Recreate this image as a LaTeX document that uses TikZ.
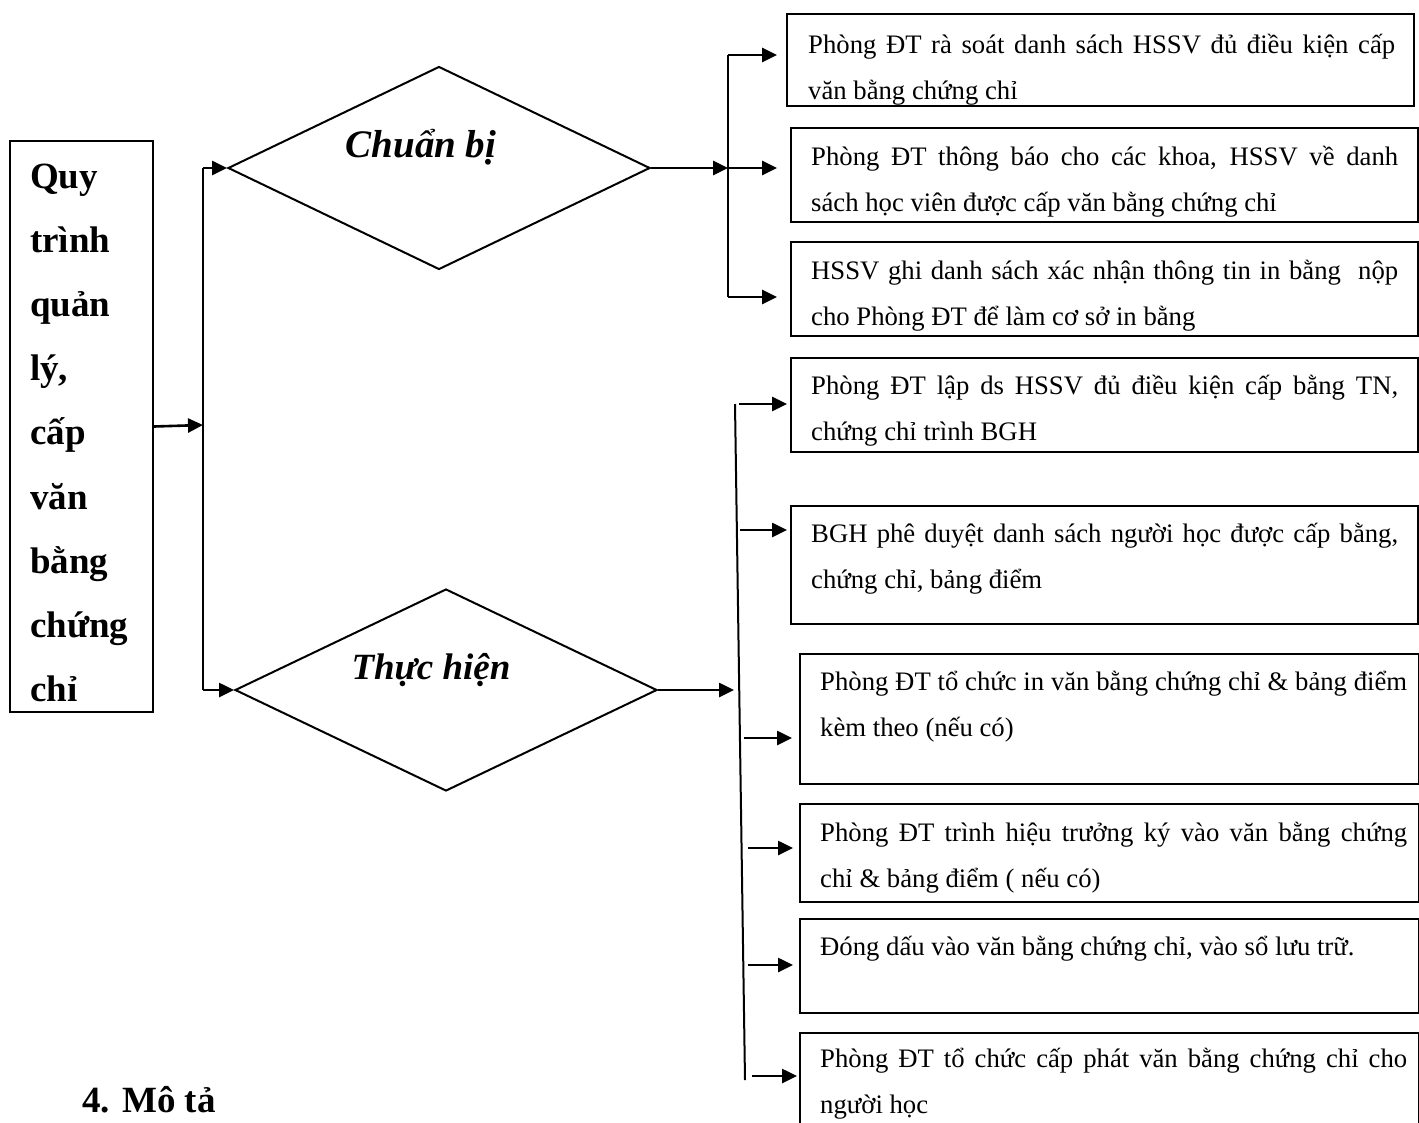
\documentclass[tikz,border=0pt]{standalone}
\usepackage{fontspec}
\setmainfont{Liberation Serif}
\usetikzlibrary{arrows.meta,shapes.geometric}
\tikzset{
  arr/.style={line width=2.6pt, -{Triangle[length=15pt,width=14pt]}},
  ln/.style={line width=2pt},
  boxn/.style={draw, line width=2.4pt, inner sep=0, anchor=north west},
  dia/.style={diamond, draw, line width=2pt, inner sep=0, minimum width=422pt},
  txt/.style={anchor=base west, inner sep=0},
  big/.style={font=\fontsize{37}{44}\selectfont\bfseries},
}
\newcommand{\bt}[1]{\parbox[t]{587pt}{\fontsize{26.7}{46}\selectfont\tolerance=10000 #1}}
\newcommand{\cliptxt}[3]{\begin{scope}\clip ([shift={(1.2pt,-1.2pt)}]#1.north west) rectangle ([shift={(-1.2pt,1.2pt)}]#1.south east);\node[txt] at (#2) {\bt{#3}};\end{scope}}
\begin{document}
\begin{tikzpicture}[x=1pt,y=-1pt]
\useasboundingbox (0,0) rectangle (1419,1122);
\clip (0,0) rectangle (1419,1122);
\fill[white] (0,0) rectangle (1419,1122);

% left box
\node[draw, line width=2pt, inner sep=0, anchor=north west, minimum width=143pt, minimum height=571pt] (L) at (9,140) {};
\node[txt] (Lt) at (30,188) {\parbox[t]{120pt}{\fontsize{37}{64.2}\selectfont\bfseries Quy\\trình\\quản\\lý,\\cấp\\văn\\bằng\\chứng\\chỉ}};

% diamonds
\node[dia, minimum height=203pt] (D1) at (439,168) {};
\node[dia, minimum height=202pt] (D2) at (446,690) {};
\node[anchor=base, inner sep=0, font=\fontsize{39}{46}\selectfont\bfseries\itshape] (D1t) at (421,157) {Chuẩn bị};
\node[anchor=base, inner sep=0, font=\fontsize{37}{44}\selectfont\bfseries\itshape] (D2t) at (431,679) {Thực hiện};

% right boxes
\node[boxn, minimum width=627pt, minimum height=92pt] (b1) at (786,13) {};
\node[boxn, minimum width=627pt, minimum height=94pt] (b2) at (790,127) {};
\node[boxn, minimum width=627pt, minimum height=94pt] (b3) at (790,241) {};
\node[boxn, minimum width=627pt, minimum height=94pt] (b4) at (790,357) {};
\node[boxn, minimum width=627pt, minimum height=118pt] (b5) at (790,505) {};
\node[boxn, minimum width=619pt, minimum height=130pt] (b6) at (799,653) {};
\node[boxn, minimum width=619pt, minimum height=98pt] (b7) at (799,803) {};
\node[boxn, minimum width=619pt, minimum height=94pt] (b8) at (799,918) {};
\node[boxn, minimum width=619pt, minimum height=130pt] (b9) at (799,1032) {};

\cliptxt{b1}{808,53}{Phòng ĐT rà soát danh sách HSSV đủ điều kiện cấp\linebreak văn bằng chứng chỉ}
\cliptxt{b2}{811,165}{Phòng ĐT thông báo cho các khoa, HSSV về danh\linebreak sách học viên được cấp văn bằng chứng chỉ}
\cliptxt{b3}{811,279}{HSSV ghi danh sách xác nhận thông tin in bằng\ \ nộp\linebreak cho Phòng ĐT để làm cơ sở in bằng}
\cliptxt{b4}{811,394}{Phòng ĐT lập ds HSSV đủ điều kiện cấp bằng TN,\linebreak chứng chỉ trình BGH}
\cliptxt{b5}{811,542}{BGH phê duyệt danh sách người học được cấp bằng,\linebreak chứng chỉ, bảng điểm}
\cliptxt{b6}{820,690}{Phòng ĐT tổ chức in văn bằng chứng chỉ \& bảng điểm\linebreak kèm theo (nếu có)}
\cliptxt{b7}{820,841}{Phòng ĐT trình hiệu trưởng ký vào văn bằng chứng\linebreak chỉ \& bảng điểm ( nếu có)}
\cliptxt{b8}{820,955}{Đóng dấu vào văn bằng chứng chỉ, vào sổ lưu trữ.}
\cliptxt{b9}{820,1067}{Phòng ĐT tổ chức cấp phát văn bằng chứng chỉ cho\linebreak người học}

% left junction
\coordinate (j1) at (203,425);
\coordinate (j1t) at (203,168);
\coordinate (j1b) at (203,690);
\draw[ln] (j1t) -- (j1b);
\draw[arr] (L.east) -- (j1);
\draw[arr] (j1t) -- (D1.west);
\draw[arr] (j1b) -- (D2.west);

% Chuan bi junction
\coordinate (j2) at (728,168);
\coordinate (j2t) at (728,55);
\coordinate (j2b) at (728,297);
\draw[ln] (j2t) -- (j2b);
\draw[arr] (D1.east) -- (j2);
\draw[arr, shorten >=9pt] (j2t) -- (j2t -| b1.west);
\draw[arr, shorten >=13pt] (j2) -- (j2 -| b2.west);
\draw[arr, shorten >=13pt] (j2b) -- (j2b -| b3.west);

% Thuc hien junction
\coordinate (k1) at (735,404);
\coordinate (k2) at (745,1080);
\coordinate (k3) at (734,690);
\draw[ln] (k1) -- (k2);
\draw[arr] (D2.east) -- (k3);
\coordinate (s4) at (739,404);
\coordinate (s5) at (740,530);
\coordinate (s6) at (744,738);
\coordinate (s7) at (748,848);
\coordinate (s8) at (748,965);
\coordinate (s9) at (752,1076);
\draw[arr, shorten >=3pt] (s4) -- (s4 -| b4.west);
\draw[arr, shorten >=3pt] (s5) -- (s5 -| b5.west);
\draw[arr, shorten >=7pt] (s6) -- (s6 -| b6.west);
\draw[arr, shorten >=6pt] (s7) -- (s7 -| b7.west);
\draw[arr, shorten >=6pt] (s8) -- (s8 -| b8.west);
\draw[arr, shorten >=2pt] (s9) -- (s9 -| b9.west);

% heading
\node[txt, big] (h) at (82,1112) {4. Mô tả};
\end{tikzpicture}
\end{document}
